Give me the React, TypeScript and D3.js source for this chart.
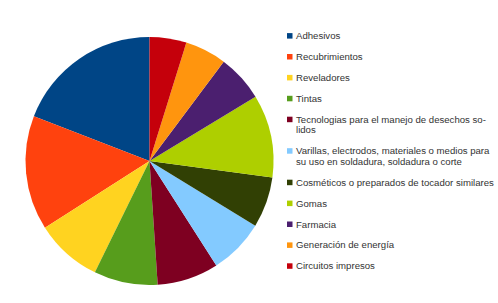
import React from "react"
import * as d3 from "d3"

// Data (shares)
const categories = [
  "Adhesivos",
  "Recubrimientos",
  "Reveladores",
  "Tintas",
  "Tecnologias para el manejo de desechos so-\nlidos",
  "Varillas, electrodos, materiales o medios para\nsu uso en soldadura, soldadura o corte",
  "Cosméticos o preparados de tocador similares",
  "Gomas",
  "Farmacia",
  "Generación de energía",
  "Circuitos impresos",
]
const values = [19.1, 14.9, 8.7, 8.3, 8.0, 7.2, 6.6, 10.8, 6.1, 5.4, 4.8]
const colors = [
  "#004586", "#ff420e", "#ffd320", "#579d1c", "#7e0021", "#83caff",
  "#314004", "#aecf00", "#4b1f6f", "#ff950e", "#c5000b",
]

export default function App() {
  const width = 498
  const height = 303

  // Pie
  const cx = 149.5
  const cy = 161
  const r = 124

  // counterclockwise from 12 o'clock
  const pie = d3
    .pie<number>()
    .sort(null)
    .startAngle(0)
    .endAngle(-2 * Math.PI)
  const arc = d3.arc<d3.PieArcDatum<number>>().innerRadius(0).outerRadius(r)
  const arcs = pie(values)

  // Legend layout
  const legendX = 287
  const textX = 296
  const rowH = 20.9
  const lineH = 10.6
  let y = 35.8
  const rows = categories.map((c, i) => {
    const lines = c.split("\n")
    const row = { lines, y, color: colors[i] }
    y += rowH + (lines.length - 1) * lineH
    return row
  })

  return (
    <svg
      width={width}
      height={height}
      style={{ position: "absolute", left: 0, top: 0, background: "#fff" }}
    >
      <g transform={`translate(${cx}, ${cy})`}>
        {arcs.map((a, i) => (
          <path key={i} d={arc(a) || ""} fill={colors[i]} />
        ))}
      </g>
      <g fontFamily="Liberation Sans, Arial, sans-serif" fontSize={9.6} fill="#333">
        {rows.map((row, i) => (
          <g key={i}>
            <rect x={legendX} y={row.y - 2.7} width={5.5} height={5.5} fill={row.color} />
            {row.lines.map((l, j) => (
              <text key={j} x={textX} y={row.y + j * lineH} dy="0.35em">
                {l}
              </text>
            ))}
          </g>
        ))}
      </g>
    </svg>
  )
}
